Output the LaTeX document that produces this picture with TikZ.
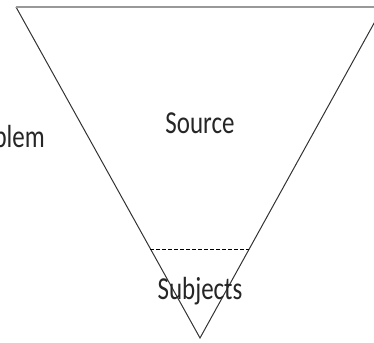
\documentclass[tikz,border=0pt]{standalone}
\usepackage{fontspec}
\setmainfont{Carlito}
\newfontfamily\narrowfont[FakeStretch=0.78]{Carlito}
\tikzset{
  rim/.style={draw=black!40, line width=2.4pt},
  side/.style={draw=black!80, line width=1pt},
  cut/.style={draw=black, line width=0.9pt, dash pattern=on 4pt off 2pt},
  lbl/.style={font=\narrowfont\fontsize{32}{36}\selectfont, text=black!85, inner sep=0pt}
}
\begin{document}
\begin{tikzpicture}[x=1pt,y=-1pt]
  \useasboundingbox (0,0) rectangle (374,342);
  \clip (0,0) rectangle (374,342);
  % funnel corners
  \coordinate (tl) at (16,7);
  \coordinate (tr) at (383,7);
  \coordinate (apex) at (200,338);
  \coordinate (cl) at (150,249);
  \coordinate (cr) at (249,249);
  \draw[side] (tl) -- (apex) -- (tr);
  \draw[rim] (tl) -- (tr);
  \draw[cut] (cl) -- (cr);
  % labels
  \node[lbl, anchor=base] (source) at (200,133) {Source};
  \node[lbl, anchor=base] (subjects) at (200,299) {Subjects};
  \node[lbl, anchor=base east] (problem) at (45,147) {Problem};
\end{tikzpicture}
\end{document}
